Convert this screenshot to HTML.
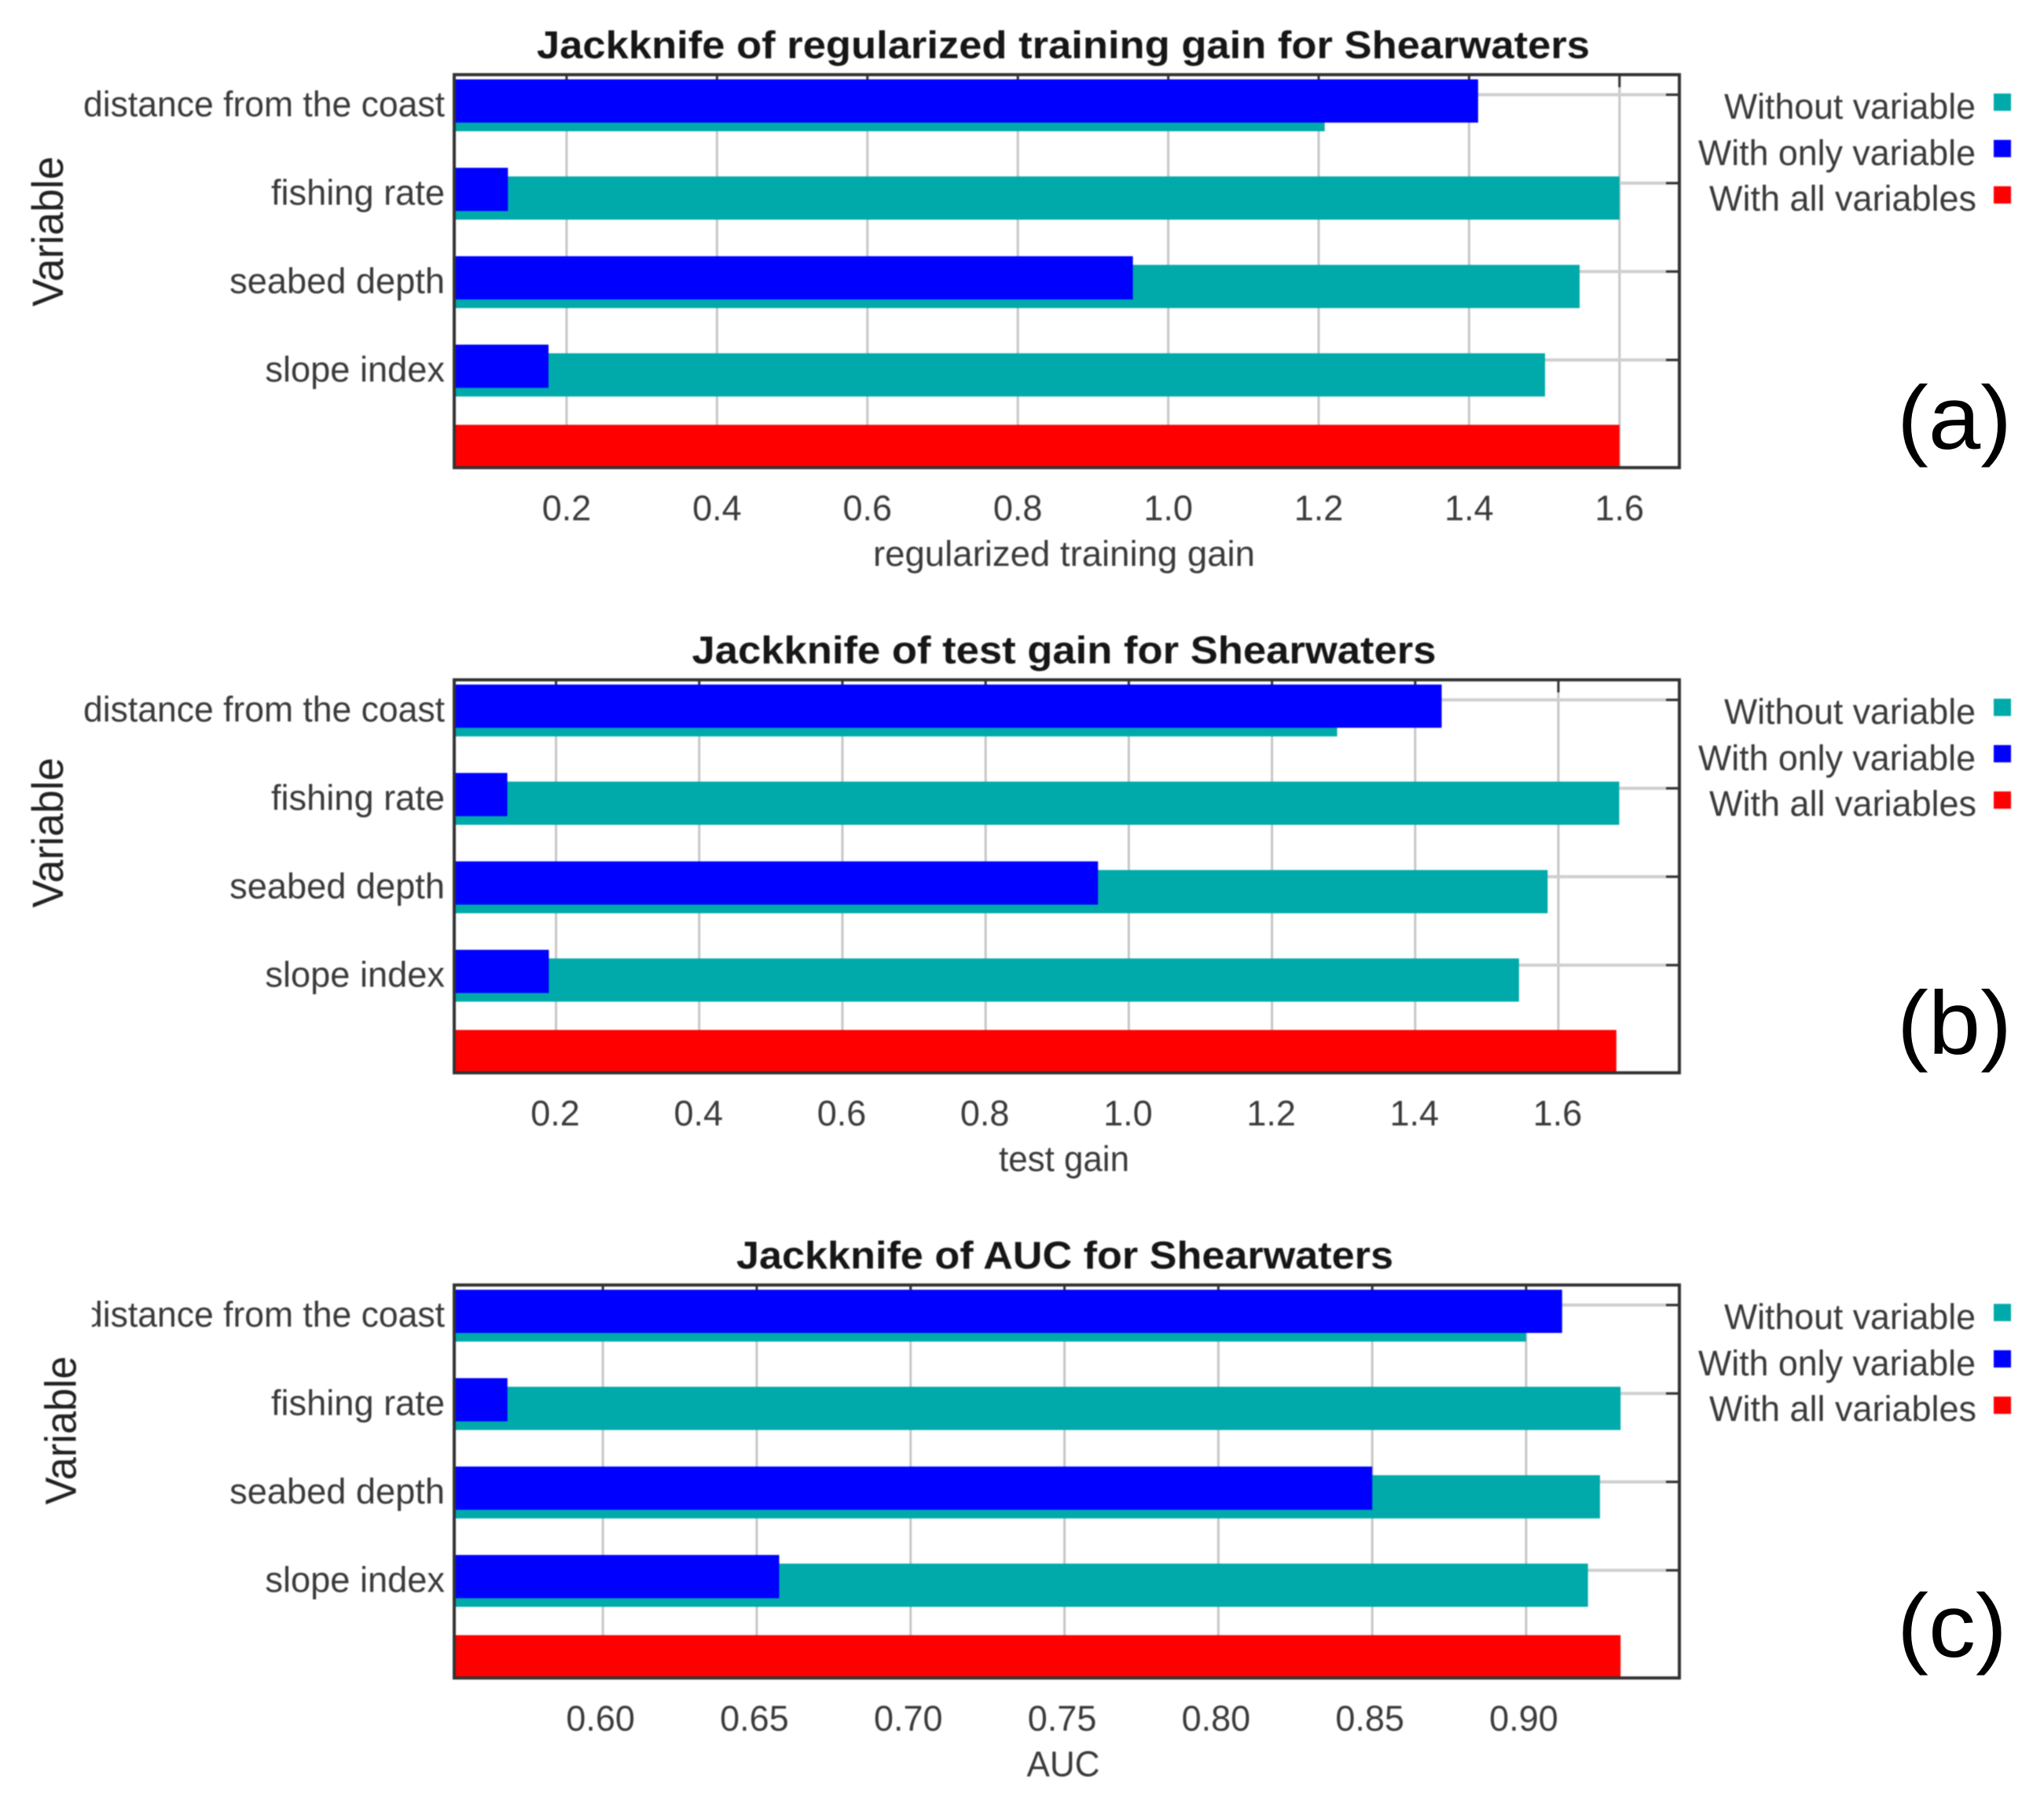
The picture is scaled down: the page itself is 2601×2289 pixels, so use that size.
<!DOCTYPE html>
<html lang="en">
<head>
<meta charset="utf-8">
<title>Jackknife charts for Shearwaters</title>
<style>
  html, body { margin: 0; padding: 0; background: #fff; }
  svg { display: block; font-family: "Liberation Sans", sans-serif; }
  .soft { filter: blur(0.8px); }
  .title { font-size: 49px; font-weight: bold; fill: #161616; text-anchor: middle; }
  .axis-title { font-size: 45px; fill: #3a3a3a; text-anchor: middle; }
  .var-title { font-size: 56px; fill: #222; text-anchor: middle; }
  .legend-text { font-size: 45px; fill: #3a3a3a; text-anchor: end; }
  .tick-text { font-size: 45px; fill: #3a3a3a; text-anchor: middle; }
  .cat-text { font-size: 45.2px; fill: #3a3a3a; text-anchor: end; }
  .letter { font-size: 114px; fill: #000; }
  .frame { fill: none; stroke: #333; stroke-width: 4; }
</style>
</head>
<body>
<svg xmlns="http://www.w3.org/2000/svg" width="2601" height="2289" viewBox="0 0 2601 2289">
  <rect x="0" y="0" width="2601" height="2289" fill="#fff"/>

  <!-- Panel A -->
  <g class="soft">
    <text class="title" x="1353" y="74" textLength="1340" lengthAdjust="spacingAndGlyphs">Jackknife of regularized training gain for Shearwaters</text>
    <g id="marks-a"></g>
    <rect class="frame" x="578" y="95" width="1559" height="500"/>
    <text class="axis-title" x="1354" y="720" textLength="486" lengthAdjust="spacingAndGlyphs">regularized training gain</text>
    <text class="var-title" x="80" y="294.5" transform="rotate(-90 80 294.5)" textLength="191" lengthAdjust="spacingAndGlyphs">Variable</text>
    <text class="legend-text" x="2514" y="151" textLength="320" lengthAdjust="spacingAndGlyphs">Without variable</text>
    <text class="legend-text" x="2514" y="210" textLength="353" lengthAdjust="spacingAndGlyphs">With only variable</text>
    <text class="legend-text" x="2515" y="268" textLength="340" lengthAdjust="spacingAndGlyphs">With all variables</text>
    <rect x="2537" y="119" width="22" height="22" fill="#00aaaa"/>
    <rect x="2537" y="178" width="22" height="22" fill="#0000ff"/>
    <rect x="2537" y="237" width="22" height="22" fill="#ff0000"/>
  </g>
  <text class="letter" x="2414" y="571" textLength="146" lengthAdjust="spacingAndGlyphs">(a)</text>

  <!-- Panel B -->
  <g class="soft">
    <text class="title" x="1354" y="844" textLength="947" lengthAdjust="spacingAndGlyphs">Jackknife of test gain for Shearwaters</text>
    <g id="marks-b"></g>
    <rect class="frame" x="578" y="865" width="1559" height="500"/>
    <text class="axis-title" x="1354" y="1490" textLength="166" lengthAdjust="spacingAndGlyphs">test gain</text>
    <text class="var-title" x="80" y="1059.5" transform="rotate(-90 80 1059.5)" textLength="191" lengthAdjust="spacingAndGlyphs">Variable</text>
    <text class="legend-text" x="2514" y="921" textLength="320" lengthAdjust="spacingAndGlyphs">Without variable</text>
    <text class="legend-text" x="2514" y="980" textLength="353" lengthAdjust="spacingAndGlyphs">With only variable</text>
    <text class="legend-text" x="2515" y="1038" textLength="340" lengthAdjust="spacingAndGlyphs">With all variables</text>
    <rect x="2537" y="889" width="22" height="22" fill="#00aaaa"/>
    <rect x="2537" y="948" width="22" height="22" fill="#0000ff"/>
    <rect x="2537" y="1007" width="22" height="22" fill="#ff0000"/>
  </g>
  <text class="letter" x="2414" y="1341" textLength="146" lengthAdjust="spacingAndGlyphs">(b)</text>

  <!-- Panel C -->
  <g class="soft">
    <text class="title" x="1355" y="1614" textLength="836" lengthAdjust="spacingAndGlyphs">Jackknife of AUC for Shearwaters</text>
    <g id="marks-c"></g>
    <rect class="frame" x="578" y="1635" width="1559" height="500"/>
    <rect x="90" y="1640" width="27" height="70" fill="#fff"/>
    <text class="axis-title" x="1353" y="2260" textLength="93" lengthAdjust="spacingAndGlyphs">AUC</text>
    <text class="var-title" x="96.5" y="1820" transform="rotate(-90 96.5 1820)" textLength="189" lengthAdjust="spacingAndGlyphs">Variable</text>
    <text class="legend-text" x="2514" y="1691" textLength="320" lengthAdjust="spacingAndGlyphs">Without variable</text>
    <text class="legend-text" x="2514" y="1750" textLength="353" lengthAdjust="spacingAndGlyphs">With only variable</text>
    <text class="legend-text" x="2515" y="1808" textLength="340" lengthAdjust="spacingAndGlyphs">With all variables</text>
    <rect x="2537" y="1659" width="22" height="22" fill="#00aaaa"/>
    <rect x="2537" y="1718" width="22" height="22" fill="#0000ff"/>
    <rect x="2537" y="1777" width="22" height="22" fill="#ff0000"/>
  </g>
  <text class="letter" x="2414" y="2108" textLength="140" lengthAdjust="spacingAndGlyphs">(c)</text>
</svg>

<script>
// Chart data
const categories = ["distance from the coast", "fishing rate", "seabed depth", "slope index"];

const withoutVariableA = [1.208, 1.600, 1.547, 1.501];
const withOnlyVariableA = [1.412, 0.122, 0.953, 0.176];
const withAllVariablesA = [1.600];
const tickValuesA = [0.2, 0.4, 0.6, 0.8, 1.0, 1.2, 1.4, 1.6];
const tickLabelsA = ["0.2", "0.4", "0.6", "0.8", "1.0", "1.2", "1.4", "1.6"];

const withoutVariableB = [1.291, 1.685, 1.585, 1.545];
const withOnlyVariableB = [1.437, 0.132, 0.957, 0.190];
const withAllVariablesB = [1.681];
const tickValuesB = [0.2, 0.4, 0.6, 0.8, 1.0, 1.2, 1.4, 1.6];
const tickLabelsB = ["0.2", "0.4", "0.6", "0.8", "1.0", "1.2", "1.4", "1.6"];

const withoutVariableC = [0.900, 0.9307, 0.924, 0.9201];
const withOnlyVariableC = [0.9117, 0.569, 0.850, 0.6573];
const withAllVariablesC = [0.9307];
const tickValuesC = [0.60, 0.65, 0.70, 0.75, 0.80, 0.85, 0.90];
const tickLabelsC = ["0.60", "0.65", "0.70", "0.75", "0.80", "0.85", "0.90"];

const SVG_NS = "http://www.w3.org/2000/svg";

function make(parent, tag, attrs) {
  const node = document.createElementNS(SVG_NS, tag);
  for (const key in attrs) node.setAttribute(key, attrs[key]);
  parent.appendChild(node);
  return node;
}

function drawPanel(groupId, frameTop, domainMin, domainMax, without, only, all, tickValues, tickLabels, labelShift) {
  const group = document.getElementById(groupId);
  const left = 578, right = 2137, barHeight = 55;
  const frameBottom = frameTop + 500;

  // axis functions
  const xScale = v => left + (v - domainMin) / (domainMax - domainMin) * (right - left);
  const band = i => frameTop + 17.5 + 112.5 * i;

  // vertical grid, top ticks, x tick labels
  tickValues.forEach((v, i) => {
    const gx = xScale(v);
    const grid = make(group, "line", { x1: gx, x2: gx, y1: frameTop, y2: frameBottom, stroke: "#c6c6c6", "stroke-width": 3 });
    
    
    const tick = make(group, "line", { x1: gx, x2: gx, y1: frameTop, y2: frameTop + 16, stroke: "#333", "stroke-width": 3 });
    
    
    const label = make(group, "text", { x: gx + labelShift, y: frameTop + 567, class: "tick-text" });
    label.textContent = tickLabels[i];
    
    
  });

  // horizontal grid, right ticks, category labels
  categories.forEach((name, i) => {
    const gy = band(i) + 8;
    const grid = make(group, "line", { x1: left, x2: right, y1: gy, y2: gy, stroke: "#cfcfcf", "stroke-width": 4 });
    
    
    const tick = make(group, "line", { x1: right - 17, x2: right, y1: gy, y2: gy, stroke: "#333", "stroke-width": 3 });
    
    
    const label = make(group, "text", { x: 566, y: band(i) + 35.5, class: "cat-text" });
    label.textContent = name;
    if (i === 0) { label.setAttribute('textLength', 460); label.setAttribute('lengthAdjust', 'spacingAndGlyphs'); }
    
    
  });

  // series bars
  without.forEach((v, i) => {
    const bar = make(group, "rect", { x: left, y: band(i) - 0.5, width: xScale(v) - left, height: barHeight, fill: "#00aaaa" });
    
    
  });
  only.forEach((v, i) => {
    const bar = make(group, "rect", { x: left, y: band(i) - 11.5, width: xScale(v) - left, height: barHeight, fill: "#0000ff" });
    
    
  });
  all.forEach(v => {
    const bar = make(group, "rect", { x: left, y: band(categories.length) - 22, width: xScale(v) - left, height: barHeight, fill: "#ff0000" });
    
    
  });
}

drawPanel("marks-a", 95, 0.0506, 1.6796, withoutVariableA, withOnlyVariableA, withAllVariablesA, tickValuesA, tickLabelsA, 0);
drawPanel("marks-b", 865, 0.0578, 1.769, withoutVariableB, withOnlyVariableB, withAllVariablesB, tickValuesB, tickLabelsB, -1);
drawPanel("marks-c", 1635, 0.5517, 0.9498, withoutVariableC, withOnlyVariableC, withAllVariablesC, tickValuesC, tickLabelsC, -3);
</script>
</body>
</html>
